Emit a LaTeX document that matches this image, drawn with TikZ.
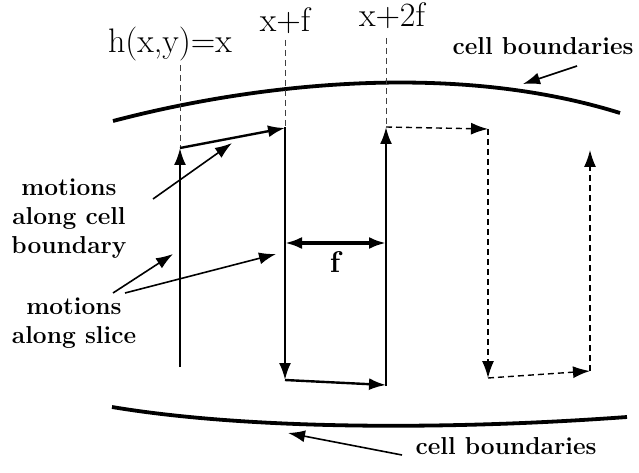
\documentclass[tikz,border=0pt]{standalone}
\usetikzlibrary{arrows.meta}
\begin{document}
\begin{tikzpicture}[x=1pt,y=-1pt,
  big/.style={font=\fontsize{34}{40}\selectfont, inner sep=0pt},
  lbl/.style={font=\bfseries\fontsize{24.5}{29}\selectfont, align=center, inner sep=0pt},
  motion/.style={line width=2.4pt, -{Latex[length=17pt,width=12pt]}},
  dmotion/.style={line width=1.4pt, dash pattern=on 6pt off 4pt, -{Latex[length=17pt,width=12pt]}},
  guide/.style={line width=1pt, black!75, dash pattern=on 6pt off 4pt},
  pointer/.style={line width=1.6pt, -{Latex[length=17pt,width=12pt]}},
  bound/.style={line width=3.8pt}]
\useasboundingbox (0,0) rectangle (639,473);
% boundaries
\draw[bound] (113,121) .. controls (250,85) and (450,60) .. (620,113);
\draw[bound] (112,407) .. controls (250,430) and (450,430) .. (627,417);
% top labels
\node[big, anchor=base] (hx) at (170,53) {h(x,y)=x};
\node[big, anchor=base] (xf) at (285,32) {x+f};
\node[big, anchor=base] (x2f) at (392,27) {x+2f};
% key points
\coordinate (a0) at (180,367);
\coordinate (a1) at (180,148);
\coordinate (b1) at (285,128);
\coordinate (b0) at (285,380);
\coordinate (c0) at (386,385);
\coordinate (c1) at (386,127);
\coordinate (d1) at (488,129);
\coordinate (d0) at (488,378);
\coordinate (e0) at (590,371);
\coordinate (e1) at (590,150);
\coordinate (g1) at (180,65);
\coordinate (g2) at (285,40);
\coordinate (g3) at (386,38);
% guides
\draw[guide] (g1) -- (a1);
\draw[guide] (g2) -- (b1);
\draw[guide] (g3) -- (c1);
% motions
\draw[motion] (a0) -- (a1);
\draw[motion] (a1) -- (b1);
\draw[motion, shorten <=-1pt] (b1) -- (b0);
\draw[motion] (b0) -- (c0);
\draw[motion, shorten <=-1pt] (c0) -- (c1);
\draw[dmotion] (c1) -- (d1);
\draw[dmotion] (d1) -- (d0);
\draw[dmotion] (d0) -- (e0);
\draw[dmotion] (e0) -- (e1);
% f
\coordinate (f0) at (285,243);
\coordinate (f1) at (386,243);
\draw[line width=3.2pt, {Latex[length=17pt,width=12pt]}-{Latex[length=17pt,width=12pt]}] (f0) -- (f1);
\node[anchor=base, inner sep=0pt, font=\bfseries\fontsize{30}{36}\selectfont] (flab) at (335,272) {f};
% cell boundaries labels
\node[lbl, anchor=base] (cbt) at (543,55) {cell boundaries};
\node[lbl, anchor=base] (cbb) at (506,454) {cell boundaries};
\coordinate (cbt0) at (577,66);
\coordinate (cbt1) at (523,84);
\coordinate (cbb0) at (402,455);
\coordinate (cbb1) at (288,433);
\draw[pointer] (cbt0) -- (cbt1);
\draw[pointer] (cbb0) -- (cbb1);
% left labels
\node[lbl] (mcb) at (69,219) {motions\\along cell\\boundary};
\node[lbl] (msl) at (74,323) {motions\\along slice};
\coordinate (mcb0) at (153,199);
\coordinate (mcb1) at (232,143);
\coordinate (ms0) at (113,293);
\coordinate (ms1) at (173,254);
\coordinate (ms2) at (125,293);
\coordinate (ms3) at (276,254);
\draw[pointer] (mcb0) -- (mcb1);
\draw[pointer] (ms0) -- (ms1);
\draw[pointer] (ms2) -- (ms3);
\end{tikzpicture}
\end{document}
